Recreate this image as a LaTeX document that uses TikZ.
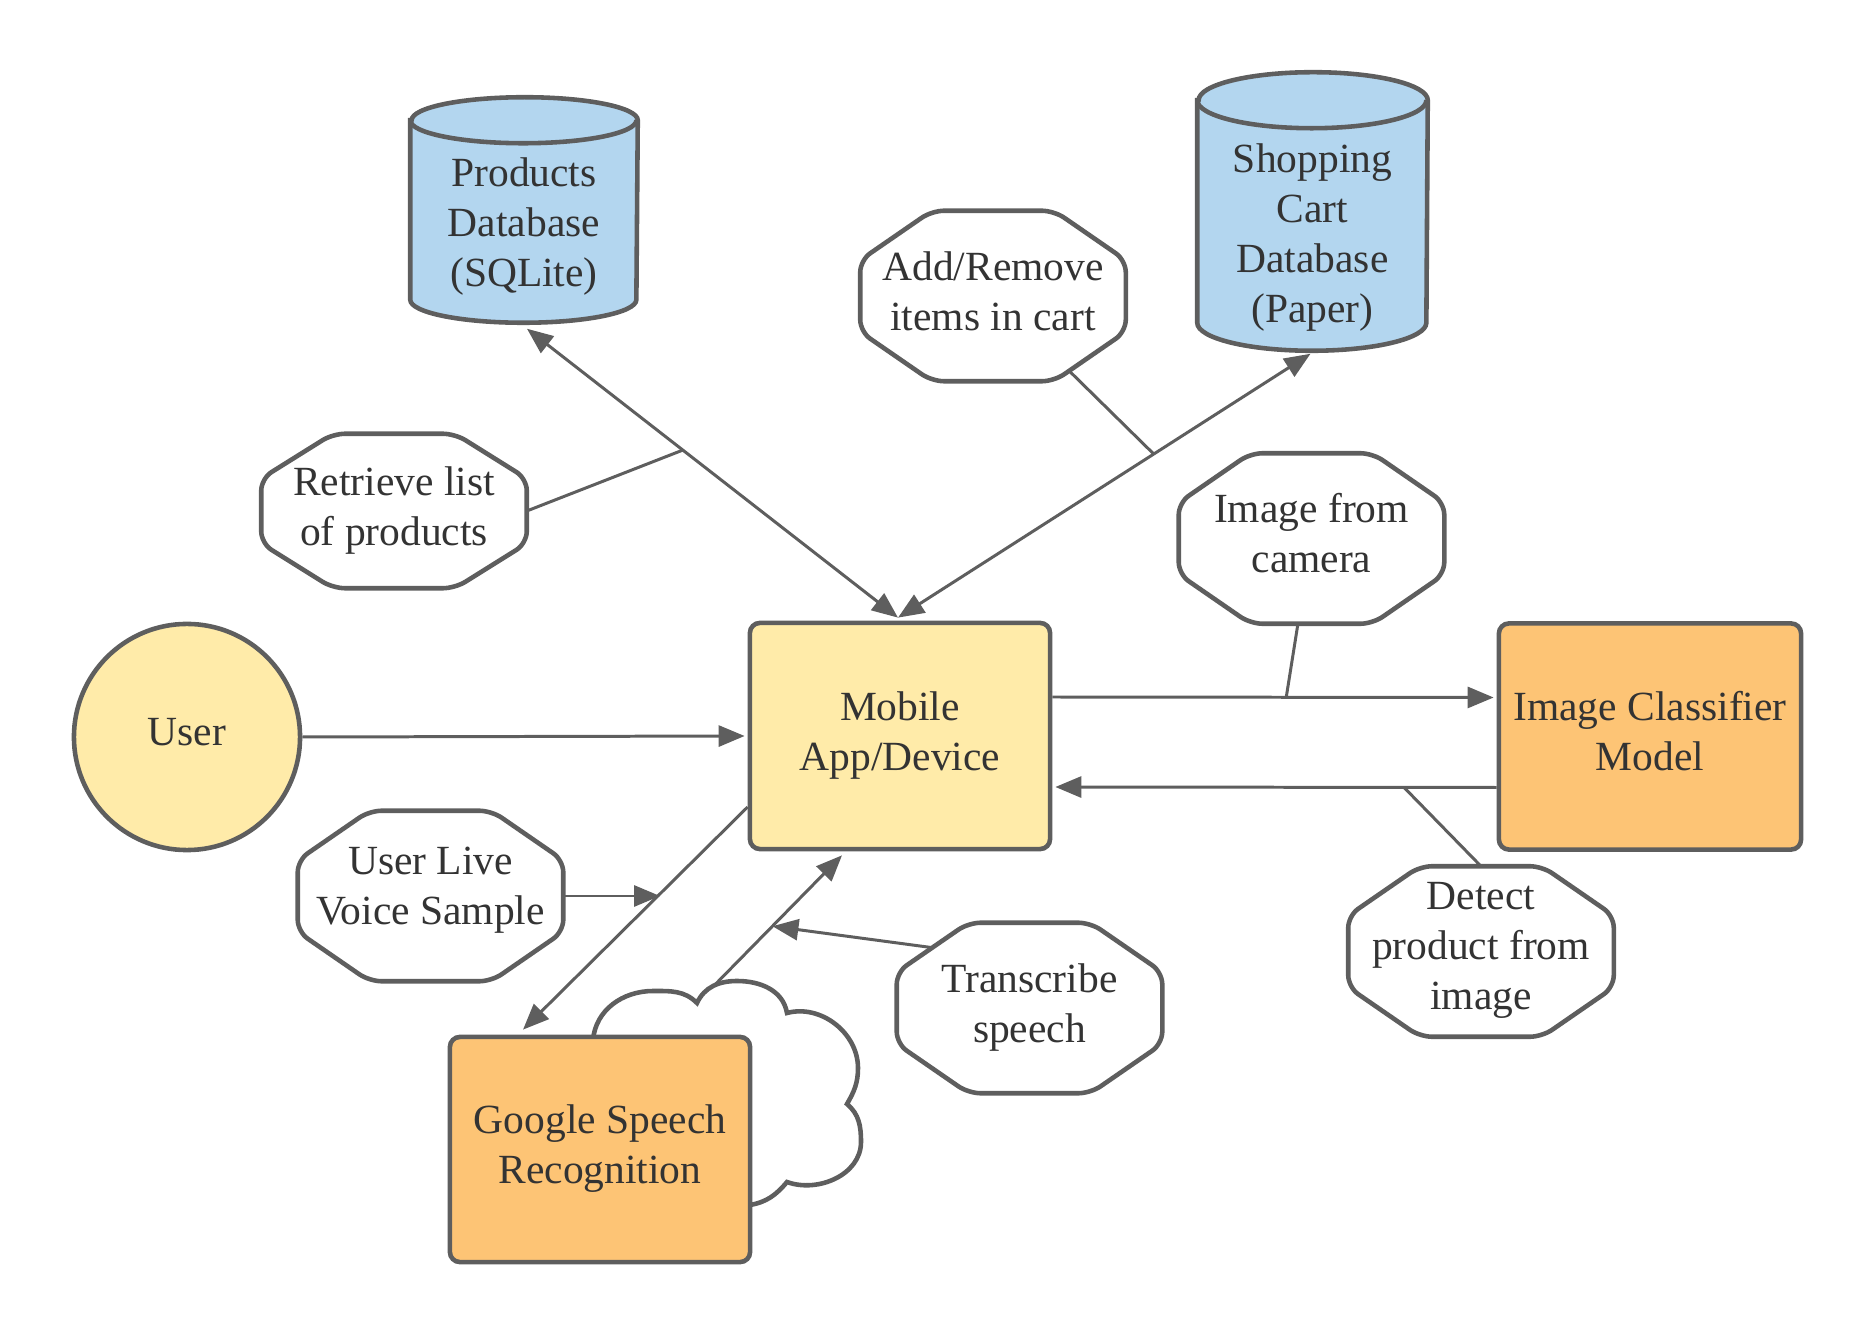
\documentclass[tikz,border=0pt]{standalone}
\usepackage{fontspec}
\setmainfont{Liberation Serif}
\usetikzlibrary{arrows.meta,calc}
\pgfdeclarelayer{bgl}
\pgfdeclarelayer{midl}
\pgfsetlayers{bgl,midl,main}
\definecolor{bd}{HTML}{5E5E5E}
\definecolor{txt}{HTML}{333333}
\definecolor{dbblue}{HTML}{B3D6EF}
\definecolor{appyel}{HTML}{FFEBA9}
\definecolor{mdlorg}{HTML}{FDC475}
\tikzset{
 lbl/.style={font=\fontsize{11.8}{14.2}\selectfont, text=txt, align=center, text depth=3pt},
 boxnode/.style={lbl, rectangle, rounded corners=0.1cm, draw=bd, line width=1.3pt, inner sep=0pt},
 appbox/.style={boxnode, fill=appyel, minimum width=3cm, minimum height=2.26cm},
 mdlbox/.style={boxnode, fill=mdlorg, minimum width=3.02cm, minimum height=2.26cm},
 usernode/.style={lbl, circle, draw=bd, line width=1.3pt, fill=appyel, minimum size=2.26cm},
 octnode/.style={lbl, rectangle, inner sep=0pt, minimum width=2.64cm, minimum height=1.69cm},
 octline/.style={draw=bd, line width=1.3pt, fill=white, rounded corners=0.12cm},
 cylnode/.style={lbl, rectangle, inner sep=0pt},
 cylline/.style={draw=bd, line width=1.3pt, fill=dbblue},
 cloudline/.style={draw=bd, line width=1.3pt, fill=white},
 conn/.style={draw=bd, line width=0.85pt},
 arrowend/.style={-{Triangle[length=0.26cm,width=0.21cm]}},
 arrowboth/.style={{Triangle[length=0.26cm,width=0.21cm]}-{Triangle[length=0.26cm,width=0.21cm]}},
}
\newcommand\octadraw[1]{\path[octline] (#1.north) -- ($(#1.north west)!0.73!(#1.north east)$) -- ($(#1.north east)!0.29!(#1.south east)$) -- ($(#1.north east)!0.71!(#1.south east)$) -- ($(#1.south west)!0.73!(#1.south east)$) -- ($(#1.south west)!0.27!(#1.south east)$) -- ($(#1.north west)!0.71!(#1.south west)$) -- ($(#1.north west)!0.29!(#1.south west)$) -- ($(#1.north west)!0.27!(#1.north east)$) -- cycle;}
% name, x radius, y radius, lift of top ellipse centre above node top
\newcommand\cyldraw[4]{%
 \path[cylline] ([yshift=#4]#1.north west) -- ([yshift=#3]#1.south west) arc[start angle=180,end angle=360,x radius=#2,y radius=#3] -- ([yshift=#4]#1.north east) arc[start angle=0,end angle=180,x radius=#2,y radius=#3] -- cycle;
 \draw[cylline, fill=none] ([yshift=#4]#1.north west) arc[start angle=180,end angle=360,x radius=#2,y radius=#3];}
\begin{document}
\begin{tikzpicture}[x=0.01cm,y=-0.01cm]
\useasboundingbox (0,0) rectangle (1875,1337);
% nodes
\node[cylnode, minimum width=2.26cm, minimum height=1.89cm] (db1) at (524,227.5) {Products\\Database\\(SQLite)};
\node[cylnode, minimum width=2.29cm, minimum height=2.23cm] (db2) at (1312.5,238.5) {Shopping\\Cart\\Database\\(Paper)};
\node[octnode] (addrem) at (993,296) {Add/Remove\\items in cart};
\node[octnode, minimum height=1.53cm] (ret) at (394,511) {Retrieve list\\of products};
\node[octnode] (cam) at (1311.5,538.5) {Image from\\camera};
\node[usernode] (user) at (187,737) {User};
\node[appbox] (mob) at (900,736) {Mobile\\App/Device};
\node[mdlbox] (cls) at (1650,736.5) {Image Classifier\\Model};
\node[octnode, text depth=6pt] (voice) at (430.5,896) {User Live\\Voice Sample};
\node[octnode] (trans) at (1029.5,1008) {Transcribe\\speech};
\node[octnode] (det) at (1481,951.5) {Detect\\product from\\image};
\node[mdlbox, minimum width=3cm, minimum height=2.25cm] (goo) at (600,1149.5) {Google Speech\\Recognition};
\coordinate (cn1) at (697,1003);
% shapes
\begin{pgfonlayer}{midl}
\cyldraw{db1}{1.13cm}{0.23cm}{0.12cm}
\cyldraw{db2}{1.145cm}{0.28cm}{0.26cm}
\octadraw{addrem}
\octadraw{ret}
\octadraw{cam}
\octadraw{voice}
\octadraw{trans}
\octadraw{det}
\path[cloudline] (593,1040) to[out=85,in=180] (653,991) to[out=0,in=135] (cn1)
  to[out=65,in=180] (737,981) to[out=0,in=100] (787,1013)
  to[out=15,in=90] (858,1068) to[out=-90,in=60] (847,1104)
  to[out=-40,in=90] (861,1142) to[out=-90,in=-20] (787,1182)
  to[out=-130,in=10] (750,1205) -- (740,1210) -- (700,1150) -- cycle;
\end{pgfonlayer}
% connectors
\begin{pgfonlayer}{bgl}
\draw[conn, arrowboth] ($(db1.south)+(3,6)$) -- coordinate[pos=0.42] (p1) ($(mob.north)+(-2,-3)$);
\draw[conn, arrowboth] ($(db2.south)+(-2,3)$) -- coordinate[pos=0.38] (p2) ($(mob.north)+(-2,-3)$);
\draw[conn] (ret.east) -- (p1);
\draw[conn] (addrem.center) -- (p2);
\draw[conn, arrowend] ($(mob.east)+(0,-39)$) -- coordinate[pos=0.53] (p3) ($(cls.west)+(-3,-39)$);
\draw[conn] (cam.center) -- (p3);
\draw[conn, arrowend] ($(cls.west)+(0,51)$) -- coordinate[pos=0.21] (p4) ($(mob.east)+(3,51)$);
\draw[conn] (p4) -- (det.north);
\draw[conn, arrowend] (user.east) -- ($(mob.west)+(-3,0)$);
\draw[conn, arrowend] ($(mob.west)+(0,71)$) -- coordinate[pos=0.39] (p5) ($(goo.north)+(-77,-5)$);
\draw[conn, arrowend] (voice.east) -- (voice.east -| p5);
\draw[conn, arrowend] (cn1) -- coordinate[pos=0.52] (p6) ($(mob.south)+(-58,4)$);
\draw[conn, arrowend] ($(trans.center)+(-20,-50)$) -- (p6);
\end{pgfonlayer}
\end{tikzpicture}
\end{document}
